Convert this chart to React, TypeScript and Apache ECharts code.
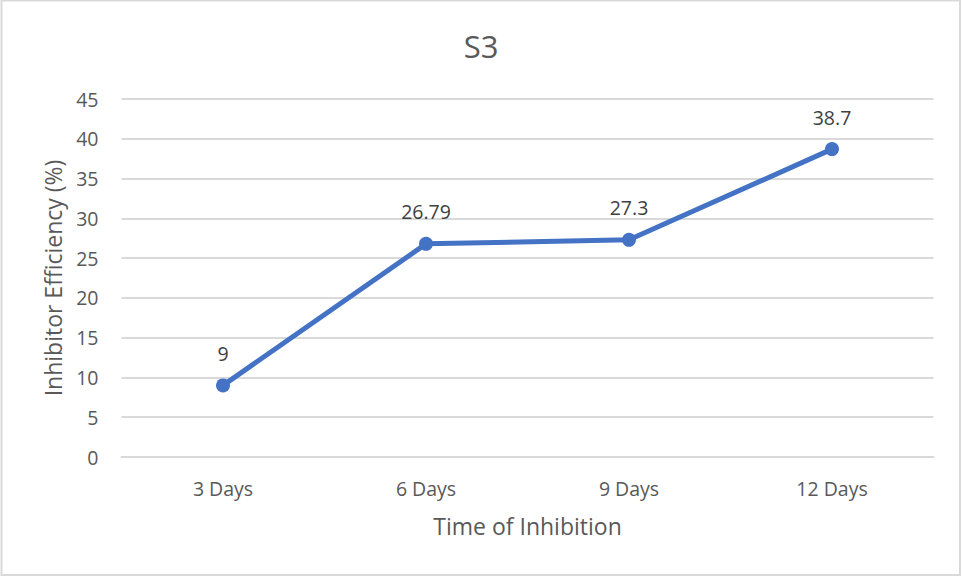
import React, { useEffect, useRef } from "react";
import * as echarts from "echarts";

const categories = ["3 Days", "6 Days", "9 Days", "12 Days"];
const values = [9, 26.79, 27.3, 38.7];
const titleText = "S3";
const yName = "Inhibitor Efficiency (%)";
const xName = "Time of Inhibition";

const FONT = "'Open Sans', 'Noto Sans', sans-serif";

export default function App() {
  const ref = useRef<HTMLDivElement>(null);
  useEffect(() => {
    if (!ref.current) return;
    const chart = echarts.init(ref.current, undefined, { renderer: "svg" });
    chart.setOption({
      animation: false,
      backgroundColor: "#ffffff",
      textStyle: { fontFamily: FONT },
      title: {
        text: titleText,
        left: "center",
        top: 25,
        textStyle: { fontSize: 31, fontWeight: "normal", color: "#595959", fontFamily: FONT },
      },
      graphic: [
        {
          type: "rect",
          shape: { x: 1.5, y: 0.5, width: 958.5, height: 574.5 },
          style: { fill: "none", stroke: "#d9d9d9", lineWidth: 2 },
          silent: true,
        },
      ],
      grid: { left: 121.5, right: 28.5, top: 99, bottom: 120, containLabel: false },
      xAxis: {
        type: "category",
        data: categories,
        boundaryGap: true,
        axisLine: { show: true, lineStyle: { color: "#d9d9d9", width: 2 } },
        axisTick: { show: false },
        axisLabel: { fontSize: 19.5, color: "#595959", margin: 21, fontFamily: FONT },
        name: xName,
        nameLocation: "middle",
        nameGap: 57,
        nameTextStyle: { fontSize: 23, color: "#595959", fontFamily: FONT },
      },
      yAxis: {
        type: "value",
        min: 0,
        max: 45,
        interval: 5,
        axisLine: { show: false },
        axisTick: { show: false },
        splitLine: { lineStyle: { color: "#d9d9d9", width: 2 } },
        axisLabel: { fontSize: 19.5, color: "#595959", margin: 23, fontFamily: FONT },
        name: yName,
        nameLocation: "middle",
        nameGap: 57,
        nameTextStyle: { fontSize: 23, color: "#595959", fontFamily: FONT },
      },
      series: [
        {
          type: "line",
          data: values,
          symbol: "circle",
          symbolSize: 14,
          lineStyle: { color: "#4472C4", width: 5 },
          itemStyle: { color: "#4472C4" },
          label: {
            show: true,
            position: "top",
            distance: 15,
            fontSize: 19.5,
            color: "#404040",
            fontFamily: FONT,
          },
        },
      ],
    });
    return () => chart.dispose();
  }, []);
  return (
    <div
      ref={ref}
      style={{ position: "absolute", left: 0, top: 0, width: 962, height: 577 }}
    />
  );
}
